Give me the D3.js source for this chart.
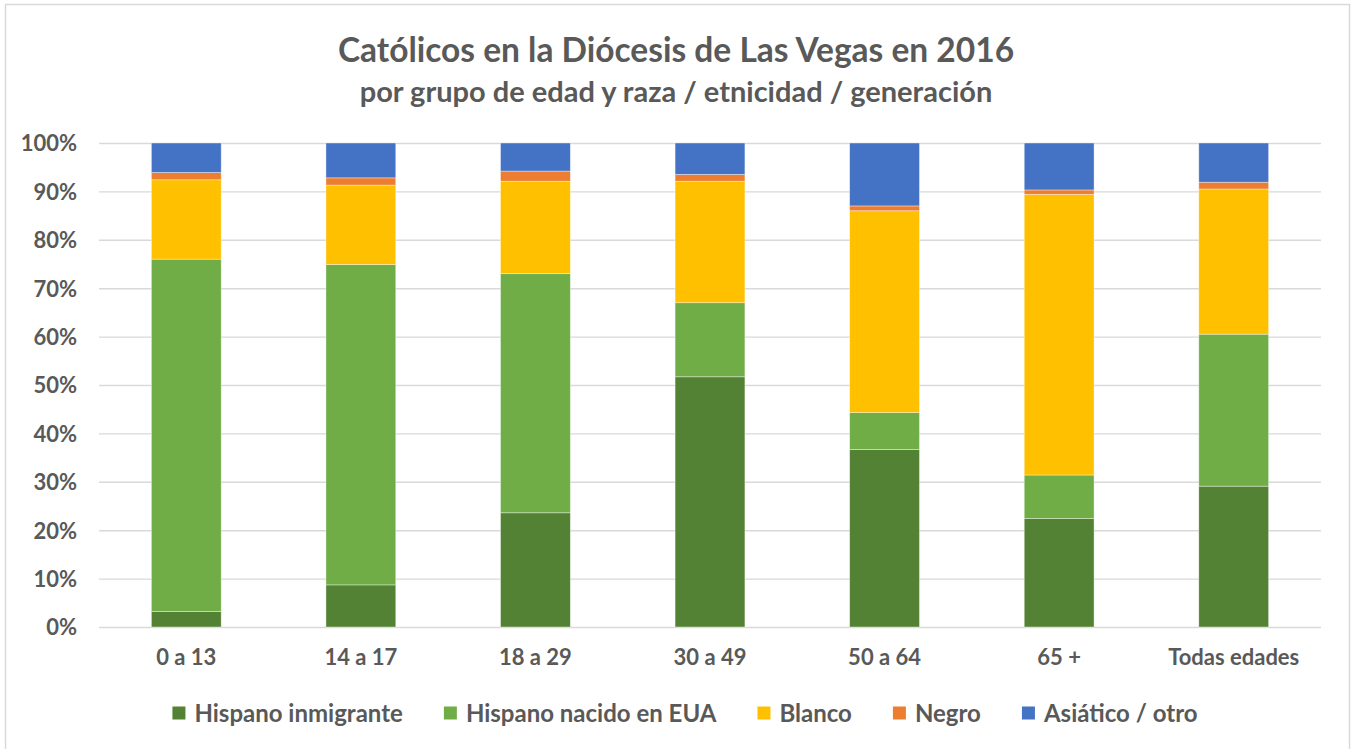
<!DOCTYPE html>
<html>
<head>
<meta charset="utf-8">
<script src="https://cdn.jsdelivr.net/npm/d3@7"></script>
<style>
	body { margin: 0; background: #fff; }
	svg text { font-family: Lato, "Open Sans", sans-serif; font-weight: bold; fill: #595959; }
</style>
</head>
<body>
<svg id="chart"></svg>
<script>
const WIDTH = 1351;
const HEIGHT = 749;

const TITLE = "Católicos en la Diócesis de Las Vegas en 2016";
const SUBTITLE = "por grupo de edad y raza / etnicidad / generación";

const groups = ["0 a 13", "14 a 17", "18 a 29", "30 a 49", "50 a 64", "65 +", "Todas edades"];
const seriesNames = ["Hispano inmigrante", "Hispano nacido en EUA", "Blanco", "Negro", "Asiático / otro"];
const seriesColors = ["#548235", "#70ad47", "#ffc000", "#ed7d31", "#4472c4"];

// porcentajes
const hispanoInmigrante = [3.2, 8.7, 23.6, 51.7, 36.7, 22.4, 29.1];
const hispanoNacido = [72.8, 66.2, 49.4, 15.3, 7.6, 9.0, 31.4];
const blanco = [16.4, 16.4, 19.1, 25.1, 41.7, 58.0, 30.0];
const negro = [1.5, 1.5, 2.1, 1.4, 1.0, 0.9, 1.4];
const asiatico = [6.1, 7.2, 5.8, 6.5, 13.0, 9.7, 8.1];

const yTicks = [0, 10, 20, 30, 40, 50, 60, 70, 80, 90, 100];

const svg = d3.select("#chart").attr("width", WIDTH).attr("height", HEIGHT);

const margin = { left: 99, right: 30, top: 143, bottom: 122 };

const x = d3.scaleBand(groups, [margin.left, WIDTH - margin.right])
	.paddingInner(0.6)
	.paddingOuter(0.3);
const y = d3.scaleLinear([0, 100], [HEIGHT - margin.bottom, margin.top]);

// chart border
svg.append("rect")
	.attr("x", 5.5)
	.attr("y", 4.5)
	.attr("width", WIDTH - 7)
	.attr("height", HEIGHT + 10)
	.attr("fill", "none")
	.attr("stroke", "#d9d9d9")
	.attr("stroke-width", 1.5);

svg.append("text")
	.attr("x", 676)
	.attr("y", 62)
	.attr("text-anchor", "middle")
	.attr("font-size", 33.5)
	.text(TITLE);

svg.append("text")
	.attr("x", 676)
	.attr("y", 102)
	.attr("text-anchor", "middle")
	.attr("font-size", 29)
	.text(SUBTITLE);

// gridlines + y labels
const yAxis = svg.append("g")
	.call(d3.axisLeft(y)
		.tickValues(yTicks)
		.tickSize(-(WIDTH - margin.right - margin.left))
		.tickPadding(22)
		.tickFormat(d => d + "%"))
	.attr("transform", `translate(${margin.left},0)`);
yAxis.select(".domain").remove();
yAxis.selectAll(".tick line").attr("stroke", "#d9d9d9").attr("stroke-width", 1.4);
yAxis.selectAll(".tick text").attr("font-size", 22).attr("fill", "#595959").attr("dy", "0.36em");

const table = groups.map((g, i) => ({
	group: g,
	[seriesNames[0]]: hispanoInmigrante[i],
	[seriesNames[1]]: hispanoNacido[i],
	[seriesNames[2]]: blanco[i],
	[seriesNames[3]]: negro[i],
	[seriesNames[4]]: asiatico[i],
}));

const stacked = d3.stack().keys(seriesNames)(table);

svg.append("g")
	.selectAll("g")
	.data(stacked)
	.join("g")
	.attr("fill", (d, i) => seriesColors[i])
	.selectAll("rect")
	.data(d => d)
	.join("rect")
	.attr("x", d => x(d.data.group))
	.attr("width", x.bandwidth())
	.attr("y", d => y(d[1]))
	.attr("height", d => y(d[0]) - y(d[1]))
	.attr("stroke", "#ffffff")
	.attr("stroke-opacity", 0.5)
	.attr("stroke-width", 0.75);

// x labels
const xAxis = svg.append("g")
	.attr("transform", `translate(0,${HEIGHT - margin.bottom})`)
	.call(d3.axisBottom(x).tickSize(0).tickPadding(22));
xAxis.select(".domain").remove();
xAxis.selectAll(".tick text").attr("font-size", 22).attr("fill", "#595959");

// legend
const legend = svg.append("g");
const items = legend.selectAll("g")
	.data(seriesNames)
	.join("g");
items.append("rect")
	.attr("width", 13)
	.attr("height", 13)
	.attr("y", -6.5)
	.attr("fill", (d, i) => seriesColors[i]);
items.append("text")
	.attr("x", 22)
	.attr("dy", "0.36em")
	.attr("font-size", 24)
	.text(d => d);

let offset = 0;
items.each(function () {
	const w = 22 + d3.select(this).select("text").node().getComputedTextLength();
	d3.select(this).attr("transform", `translate(${offset},0)`);
	offset += w + 41;
});
const legendWidth = offset - 41;
legend.attr("transform", `translate(${685 - legendWidth / 2},713)`);
</script>
</body>
</html>
